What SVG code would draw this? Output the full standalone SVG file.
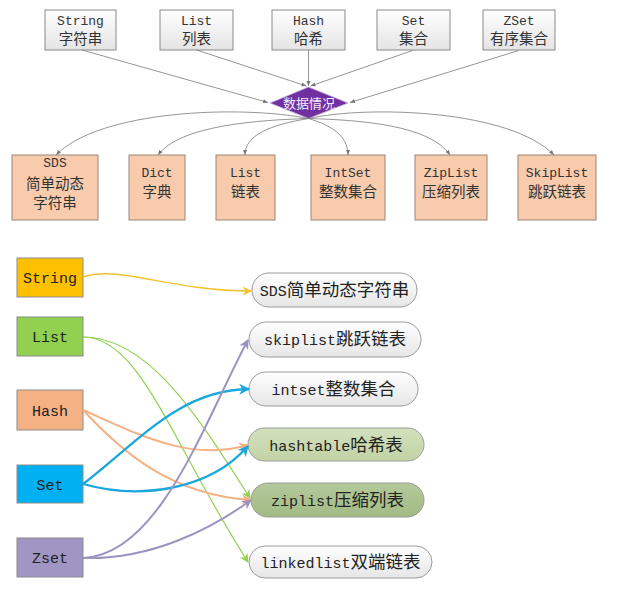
<svg xmlns="http://www.w3.org/2000/svg" width="633" height="590" viewBox="0 0 633 590">
<defs>
<linearGradient id="gGrey" x1="0" y1="0" x2="0" y2="1"><stop offset="0" stop-color="#ffffff"/><stop offset="1" stop-color="#e4e4e4"/></linearGradient>
<linearGradient id="gPill" x1="0" y1="0" x2="0" y2="1"><stop offset="0" stop-color="#ffffff"/><stop offset="1" stop-color="#e6e6e6"/></linearGradient>
<linearGradient id="gLG" x1="0" y1="0" x2="0" y2="1"><stop offset="0" stop-color="#d3e0bd"/><stop offset="1" stop-color="#c2d3a5"/></linearGradient>
<linearGradient id="gDG" x1="0" y1="0" x2="0" y2="1"><stop offset="0" stop-color="#b3c99a"/><stop offset="1" stop-color="#a2bb84"/></linearGradient>
<marker id="ag" viewBox="0 0 10 10" refX="10" refY="5" markerWidth="5" markerHeight="5" orient="auto" markerUnits="userSpaceOnUse"><path d="M0,1 L10,5 L0,9 z" fill="#777"/></marker>
<marker id="ay" viewBox="0 0 10 10" refX="9" refY="5" markerWidth="9" markerHeight="9" orient="auto" markerUnits="userSpaceOnUse"><path d="M0,0 L10,5 L0,10 L3,5 z" fill="#f2c12e"/></marker>
<marker id="agr" viewBox="0 0 10 10" refX="9" refY="5" markerWidth="9" markerHeight="9" orient="auto" markerUnits="userSpaceOnUse"><path d="M0,0 L10,5 L0,10 L3,5 z" fill="#92d050"/></marker>
<marker id="ao" viewBox="0 0 10 10" refX="9" refY="5" markerWidth="10" markerHeight="10" orient="auto" markerUnits="userSpaceOnUse"><path d="M0,0 L10,5 L0,10 L3,5 z" fill="#f4b183"/></marker>
<marker id="ab" viewBox="0 0 10 10" refX="9" refY="5" markerWidth="11" markerHeight="11" orient="auto" markerUnits="userSpaceOnUse"><path d="M0,0 L10,5 L0,10 L3,5 z" fill="#1aa7dd"/></marker>
<marker id="ap" viewBox="0 0 10 10" refX="9" refY="5" markerWidth="10" markerHeight="10" orient="auto" markerUnits="userSpaceOnUse"><path d="M0,0 L10,5 L0,10 L3,5 z" fill="#9d93c2"/></marker>
</defs>
<style>
text { font-family: "Noto Sans CJK SC", "Liberation Sans", sans-serif; fill: #222; text-anchor: middle; }
.t1 { font-size: 14.5px; fill: #333; }
.t1 .l { font-family: "Liberation Mono", monospace; font-size: 13px; }
.t2 { font-size: 14.5px; fill: #333; }
.t2 .l { font-family: "Liberation Mono", monospace; font-size: 13px; }
.t3 { font-size: 17.5px; }
.t3 .l { font-family: "Liberation Mono", monospace; font-size: 15px; }
.top { fill: url(#gGrey); stroke: #8a8a8a; stroke-width: 1; }
.ds { fill: #f8cbad; stroke: #9a8578; stroke-width: 1; }
.lb { stroke: #8c8c8c; stroke-width: 1; }
.pill { stroke: #9a9a9a; stroke-width: 1; }
.gc { fill: none; stroke: #7a7a7a; stroke-width: 0.8; marker-end: url(#ag); }
.c { fill: none; }
</style>

<g id="node-string-top"><rect class="top" x="45" y="10" width="71" height="40"/><text class="t1" x="80.5" y="24.5"><tspan class="l">String</tspan></text><text class="t1" x="80.5" y="44">字符串</text></g>
<g id="node-list-top"><rect class="top" x="160" y="10" width="73" height="40"/><text class="t1" x="196.5" y="24.5"><tspan class="l">List</tspan></text><text class="t1" x="196.5" y="44">列表</text></g>
<g id="node-hash-top"><rect class="top" x="272" y="10" width="73" height="40"/><text class="t1" x="308.5" y="24.5"><tspan class="l">Hash</tspan></text><text class="t1" x="308.5" y="44">哈希</text></g>
<g id="node-set-top"><rect class="top" x="377" y="10" width="73" height="40"/><text class="t1" x="413.5" y="24.5"><tspan class="l">Set</tspan></text><text class="t1" x="413.5" y="44">集合</text></g>
<g id="node-zset-top"><rect class="top" x="483" y="10" width="72" height="40"/><text class="t1" x="519" y="24.5"><tspan class="l">ZSet</tspan></text><text class="t1" x="519" y="44">有序集合</text></g>

<g id="node-diamond"><polygon points="270,103 308.5,87 348,103 308.5,118.5" fill="#7030a0" stroke="#c8b0e0" stroke-width="0.8"/><text x="309" y="108" style="font-size:13px; fill:#f4eefa;">数据情况</text></g>

<g id="node-sds"><rect class="ds" x="12" y="155" width="86" height="65"/><text class="t2" x="55" y="167"><tspan class="l">SDS</tspan></text><text class="t2" x="55" y="189">简单动态</text><text class="t2" x="55" y="208">字符串</text></g>
<g id="node-dict"><rect class="ds" x="129" y="155" width="56" height="65"/><text class="t2" x="157" y="177"><tspan class="l">Dict</tspan></text><text class="t2" x="157" y="197">字典</text></g>
<g id="node-list-ds"><rect class="ds" x="216" y="155" width="59" height="65"/><text class="t2" x="245.5" y="177"><tspan class="l">List</tspan></text><text class="t2" x="245.5" y="197">链表</text></g>
<g id="node-intset"><rect class="ds" x="311" y="155" width="74" height="65"/><text class="t2" x="348" y="177"><tspan class="l">IntSet</tspan></text><text class="t2" x="348" y="197">整数集合</text></g>
<g id="node-ziplist"><rect class="ds" x="415" y="155" width="72" height="65"/><text class="t2" x="451" y="177"><tspan class="l">ZipList</tspan></text><text class="t2" x="451" y="197">压缩列表</text></g>
<g id="node-skiplist"><rect class="ds" x="518" y="155" width="78" height="65"/><text class="t2" x="557" y="177"><tspan class="l">SkipList</tspan></text><text class="t2" x="557" y="197">跳跃链表</text></g>

<g id="node-string"><rect class="lb" x="17" y="258" width="66" height="39" fill="#ffc000"/><text class="t3" x="50" y="283"><tspan class="l">String</tspan></text></g>
<g id="node-list"><rect class="lb" x="17" y="317" width="66" height="39" fill="#92d050"/><text class="t3" x="50" y="342"><tspan class="l">List</tspan></text></g>
<g id="node-hash"><rect class="lb" x="17" y="390" width="66" height="40" fill="#f4b183"/><text class="t3" x="50" y="416"><tspan class="l">Hash</tspan></text></g>
<g id="node-set"><rect class="lb" x="17" y="465" width="66" height="38" fill="#00b0f0"/><text class="t3" x="50" y="490"><tspan class="l">Set</tspan></text></g>
<g id="node-zset"><rect class="lb" x="17" y="538" width="66" height="39" fill="#a096c4"/><text class="t3" x="50" y="563"><tspan class="l">Zset</tspan></text></g>

<g id="node-sds-pill"><rect class="pill" x="252" y="273" width="165" height="34" rx="17" fill="url(#gPill)"/><text class="t3" x="334.5" y="296"><tspan class="l">SDS</tspan>简单动态字符串</text></g>
<g id="node-skiplist-pill"><rect class="pill" x="249" y="322" width="172" height="35" rx="17.5" fill="url(#gPill)"/><text class="t3" x="335" y="345"><tspan class="l">skiplist</tspan>跳跃链表</text></g>
<g id="node-intset-pill"><rect class="pill" x="249" y="372" width="169" height="34" rx="17" fill="url(#gPill)"/><text class="t3" x="333.5" y="395"><tspan class="l">intset</tspan>整数集合</text></g>
<g id="node-hashtable-pill"><rect class="pill" x="248" y="428" width="176" height="33" rx="16.5" fill="url(#gLG)"/><text class="t3" x="336" y="451"><tspan class="l">hashtable</tspan>哈希表</text></g>
<g id="node-ziplist-pill"><rect class="pill" x="251" y="483" width="173" height="34" rx="17" fill="url(#gDG)"/><text class="t3" x="337.5" y="506"><tspan class="l">ziplist</tspan>压缩列表</text></g>
<g id="node-linkedlist-pill"><rect class="pill" x="249" y="546" width="183" height="32" rx="16" fill="url(#gPill)"/><text class="t3" x="340.5" y="568"><tspan class="l">linkedlist</tspan>双端链表</text></g>

<g id="connectors">
<path class="gc" d="M82,50 L268,102.5"/>
<path class="gc" d="M196.6,50 L306.5,86"/>
<path class="gc" d="M308.5,50 L308.5,86"/>
<path class="gc" d="M412.6,50.5 L310.5,86"/>
<path class="gc" d="M518.8,50.5 L350,102.5"/>
<path class="gc" d="M308.5,118.5 C240,105 100,110 56,155"/>
<path class="gc" d="M308.5,118.5 C260,120 180,125 158,155"/>
<path class="gc" d="M308.5,118.5 C270,125 245,135 245,155"/>
<path class="gc" d="M308.5,118.5 C330,125 348,135 348,155"/>
<path class="gc" d="M308.5,118.5 C360,120 430,125 450,155"/>
<path class="gc" d="M308.5,118.5 C370,105 510,110 554,155"/>

<path class="c" d="M83,277 C120,265 170,291 251,291" stroke="#f2c12e" stroke-width="1.5" marker-end="url(#ay)"/>
<path class="c" d="M83,337 C150,337 200,420 250,498" stroke="#92d050" stroke-width="1.2" marker-end="url(#agr)"/>
<path class="c" d="M83,337 C140,337 170,440 248,562" stroke="#92d050" stroke-width="1.2" marker-end="url(#agr)"/>
<path class="c" d="M83,410 C140,435 190,462 248,445" stroke="#f4b183" stroke-width="2" marker-end="url(#ao)"/>
<path class="c" d="M83,410 C120,450 170,495 251,500" stroke="#f4b183" stroke-width="2" marker-end="url(#ao)"/>
<path class="c" d="M83,484 C140,440 180,390 249,389" stroke="#1aa7dd" stroke-width="2.3" marker-end="url(#ab)"/>
<path class="c" d="M83,484 C140,500 210,490 248,446" stroke="#1aa7dd" stroke-width="2.3" marker-end="url(#ab)"/>
<path class="c" d="M83,558 C160,555 205,420 248,340" stroke="#9d93c2" stroke-width="2" marker-end="url(#ap)"/>
<path class="c" d="M83,558 C150,560 210,530 251,500" stroke="#9d93c2" stroke-width="2" marker-end="url(#ap)"/>
</g>
</svg>
